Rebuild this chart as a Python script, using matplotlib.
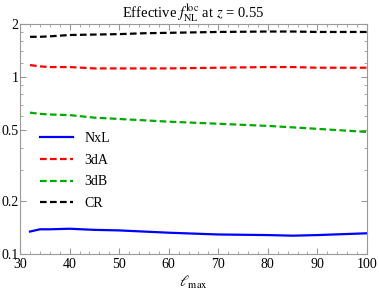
import matplotlib.pyplot as plt
import numpy as np
from matplotlib.ticker import FixedLocator, NullFormatter

plt.rcParams["font.family"] = ["Liberation Serif", "DejaVu Serif"]
plt.rcParams["mathtext.fontset"] = "stix"

ell = [32, 34, 36, 40, 45, 50, 55, 60, 70, 80, 85, 90, 100]
nxl = [0.134, 0.138, 0.138, 0.139, 0.137, 0.136, 0.134, 0.132, 0.129, 0.128, 0.127, 0.128, 0.131]
cr = [1.69, 1.69, 1.70, 1.73, 1.74, 1.75, 1.77, 1.78, 1.80, 1.81, 1.81, 1.80, 1.80]
dA = [1.17, 1.15, 1.14, 1.14, 1.12, 1.12, 1.12, 1.12, 1.13, 1.14, 1.14, 1.13, 1.13]
dB = [0.63, 0.62, 0.615, 0.61, 0.59, 0.58, 0.57, 0.56, 0.545, 0.53, 0.52, 0.51, 0.49]

fig = plt.figure(figsize=(3.79, 2.91), dpi=100)
ax = fig.add_axes([0.053, 0.127, 0.915, 0.791])

ax.plot(ell, nxl, color="#0000ff", lw=1.6, label="NxL")
ax.plot(ell, dA, color="#ff0000", lw=1.6, ls=(0, (3, 1.5)), label="3dA")
ax.plot(ell, dB, color="#00aa00", lw=1.6, ls=(0, (3, 1.5)), label="3dB")
ax.plot(ell, cr, color="black", lw=1.6, ls=(0, (3, 1.5)), label="CR")

ax.set_yscale("log")
ax.set_xlim(30, 100)
ax.set_ylim(0.1, 2)
ax.set_xticks([30, 40, 50, 60, 70, 80, 90, 100])
ax.xaxis.set_minor_locator(FixedLocator(np.arange(30, 101, 2)))
ax.set_yticks([0.1, 0.2, 0.5, 1, 2])
ax.set_yticklabels(["0.1", "0.2", "0.5", "1", "2"])
ax.yaxis.set_minor_locator(FixedLocator([0.3, 0.4, 0.6, 0.7, 0.8, 0.9, 1.2, 1.4, 1.6, 1.8]))
ax.yaxis.set_minor_formatter(NullFormatter())

for s in ax.spines.values():
    s.set_color("#999999")
ax.tick_params(which="both", direction="in", colors="#999999", labelcolor="black",
               labelsize=10, top=True, right=True)
ax.tick_params(which="major", length=4)
ax.tick_params(which="minor", length=2)
ax.tick_params(axis="x", pad=3)
ax.tick_params(axis="y", pad=1)

ax.set_xlabel(r"$\ell_{\rm max}$", fontsize=11, labelpad=2)
ax.set_title(r"Effective $f_{\rm NL}^{\rm loc}$ at $z$ = 0.55", fontsize=10.5, pad=4)

ax.legend(loc="center left", bbox_to_anchor=(0.025, 0.36), frameon=False,
          fontsize=10, handlelength=2.4, labelspacing=0.62, borderaxespad=0.4)

fig.savefig("out.png", dpi=100)
